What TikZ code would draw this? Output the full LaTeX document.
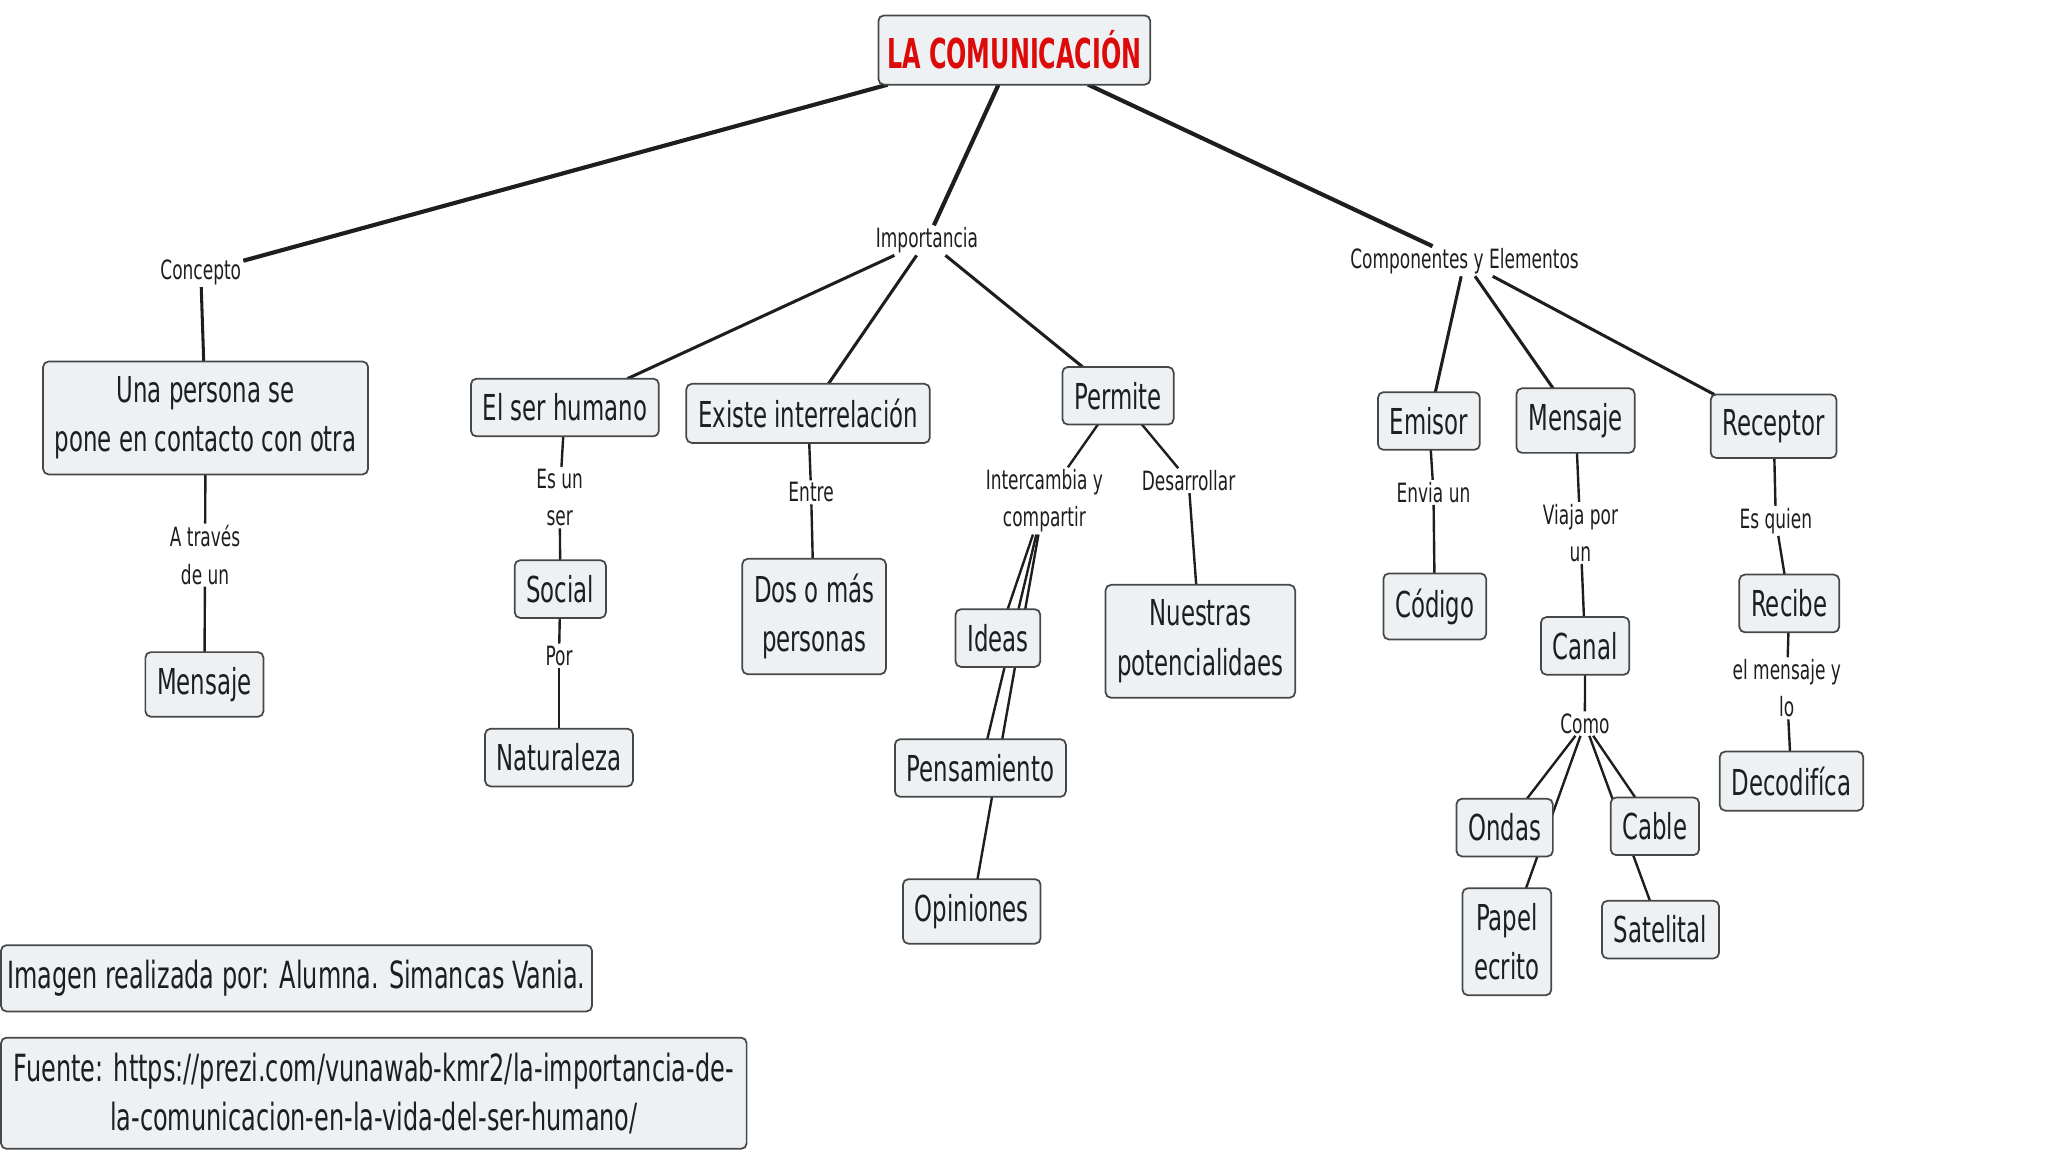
\documentclass[tikz,border=0pt]{standalone}
\usepackage{fontspec}
\setmainfont{DejaVu Sans}[FakeStretch=0.64]
\newfontfamily\titlefont{DejaVu Sans}[FakeStretch=0.58]
\usetikzlibrary{backgrounds}
\definecolor{boxfill}{HTML}{EDF1F3}
\definecolor{boxline}{HTML}{474747}
\definecolor{titlered}{HTML}{DD0A0A}
\definecolor{inkc}{HTML}{1E1E1E}
\begin{document}
\begin{tikzpicture}[x=0.6pt,y=-0.6pt,
  box/.style={draw=boxline, line width=0.8pt, fill=boxfill, rounded corners=2.5pt,
    inner xsep=5.4pt, inner ysep=6.9pt, outer sep=0pt, align=center, text=inkc,
    font=\fontsize{16.4}{22.7}\selectfont},
  footbox/.style={box, inner xsep=3pt, font=\fontsize{17.2}{22.6}\selectfont},
  lbl/.style={inner sep=1pt, outer sep=0pt, align=center, text=inkc,
    font=\fontsize{12.2}{17.1}\selectfont},
  toplink/.style={line width=1.9pt, inkc},
  midlink/.style={line width=1.4pt, inkc},
  lowlink/.style={line width=1.1pt, inkc}]
\useasboundingbox (0,0) rectangle (1568,882);

% title
\node[box, inner xsep=4pt, inner ysep=7pt, font=\titlefont\bfseries\fontsize{18.9}{22}\selectfont, text=titlered] (title) at (776.6,38.3) {LA COMUNICACIÓN};

% first level labels
\node[lbl] (concepto) at (153.7,208.5) {Concepto};
\node[lbl] (importancia) at (709.7,184) {Importancia};
\node[lbl] (componentes) at (1121.3,200) {Componentes y Elementos};

% Concepto branch
\node[box] (una) at (157.4,320) {Una persona se\\pone en contacto con otra};
\node[lbl] (atraves) at (157,425) {A través\\de un};
\node[box] (mensajeA) at (156.5,524) {Mensaje};

% Importancia branch
\node[box] (elser) at (432.5,312) {El ser humano};
\node[lbl] (esun) at (428.5,381) {Es un\\ser};
\node[box] (social) at (429,451) {Social};
\node[lbl] (por) at (428,502) {Por};
\node[box] (naturaleza) at (428,580) {Naturaleza};

\node[box] (existe) at (618.7,316.5) {Existe interrelación};
\node[lbl] (entre) at (621,377) {Entre};
\node[box] (dos) at (623.3,472) {Dos o más\\personas};

\node[box] (permite) at (856,303) {Permite};
\node[lbl] (intercambia) at (799.6,383.5) {Intercambia y\\compartir};
\node[lbl] (desarrollar) at (910,368) {Desarrollar};
\node[box] (ideas) at (764,488.5) {Ideas};
\node[box] (pensamiento) at (750.6,588) {Pensamiento};
\node[box] (opiniones) at (744,697.8) {Opiniones};
\node[box] (nuestras) at (919,491) {Nuestras\\potencialidaes};

% Componentes branch
\node[box] (emisor) at (1094,322.3) {Emisor};
\node[lbl] (envia) at (1097.5,377) {Envia un};
\node[box] (codigo) at (1098.5,464.3) {Código};

\node[box] (mensajeB) at (1206.3,322) {Mensaje};
\node[lbl] (viaja) at (1210,408) {Viaja por\\un};
\node[box] (canal) at (1213.6,494.5) {Canal};
\node[lbl] (como) at (1213.4,554) {Como};
\node[box] (ondas) at (1152,633.6) {Ondas};
\node[box] (papel) at (1153.7,721) {Papel\\ecrito};
\node[box] (cable) at (1267,632.6) {Cable};
\node[box] (satelital) at (1271.3,711.7) {Satelital};

\node[box] (receptor) at (1357.9,326.3) {Receptor};
\node[lbl] (esquien) at (1359.6,398.8) {Es quien};
\node[box] (recibe) at (1369.9,462) {Recibe};
\node[lbl] (elmensaje) at (1368,527) {el mensaje y\\lo};
\node[box] (decodifica) at (1371.6,598) {Decodifíca};

% footer
\node[footbox, anchor=west] (imagen) at (0.8,749) {Imagen realizada por: Alumna. Simancas Vania.};
\node[footbox, anchor=west, minimum width=342.5pt] (fuente) at (0.8,837) {Fuente: https://prezi.com/vunawab-kmr2/la-importancia-de-\\la-comunicacion-en-la-vida-del-ser-humano/};

% connectors
\begin{scope}[on background layer]
\draw[toplink] (title) -- (concepto);
\draw[toplink] (title) -- (importancia);
\draw[toplink] (title) -- (componentes);

\draw[midlink] (concepto) -- (una);
\draw[midlink] (importancia) -- (elser);
\draw[midlink] (importancia) -- (existe);
\draw[midlink] (importancia) -- (permite);
\draw[midlink] (componentes) -- (emisor);
\draw[midlink] (componentes) -- (mensajeB);
\draw[midlink] (componentes) -- (receptor);

\draw[lowlink] (una) -- (atraves);
\draw[lowlink] (atraves) -- (mensajeA);
\draw[lowlink] (elser) -- (esun);
\draw[lowlink] (esun) -- (social);
\draw[lowlink] (social) -- (por);
\draw[lowlink] (por) -- (naturaleza);
\draw[lowlink] (existe) -- (entre);
\draw[lowlink] (entre) -- (dos);
\draw[lowlink] (permite) -- (intercambia);
\draw[lowlink] (permite) -- (desarrollar);
\draw[lowlink] (intercambia) -- (ideas);
\draw[lowlink] (intercambia) -- (pensamiento);
\draw[lowlink] (intercambia) -- (opiniones);
\draw[lowlink] (desarrollar) -- (nuestras);
\draw[lowlink] (emisor) -- (envia);
\draw[lowlink] (envia) -- (codigo);
\draw[lowlink] (mensajeB) -- (viaja);
\draw[lowlink] (viaja) -- (canal);
\draw[lowlink] (canal) -- (como);
\draw[lowlink] (como) -- (ondas);
\draw[lowlink] (como) -- (papel);
\draw[lowlink] (como) -- (cable);
\draw[lowlink] (como) -- (satelital);
\draw[lowlink] (receptor) -- (esquien);
\draw[lowlink] (esquien) -- (recibe);
\draw[lowlink] (recibe) -- (elmensaje);
\draw[lowlink] (elmensaje) -- (decodifica);
\end{scope}
\end{tikzpicture}
\end{document}
